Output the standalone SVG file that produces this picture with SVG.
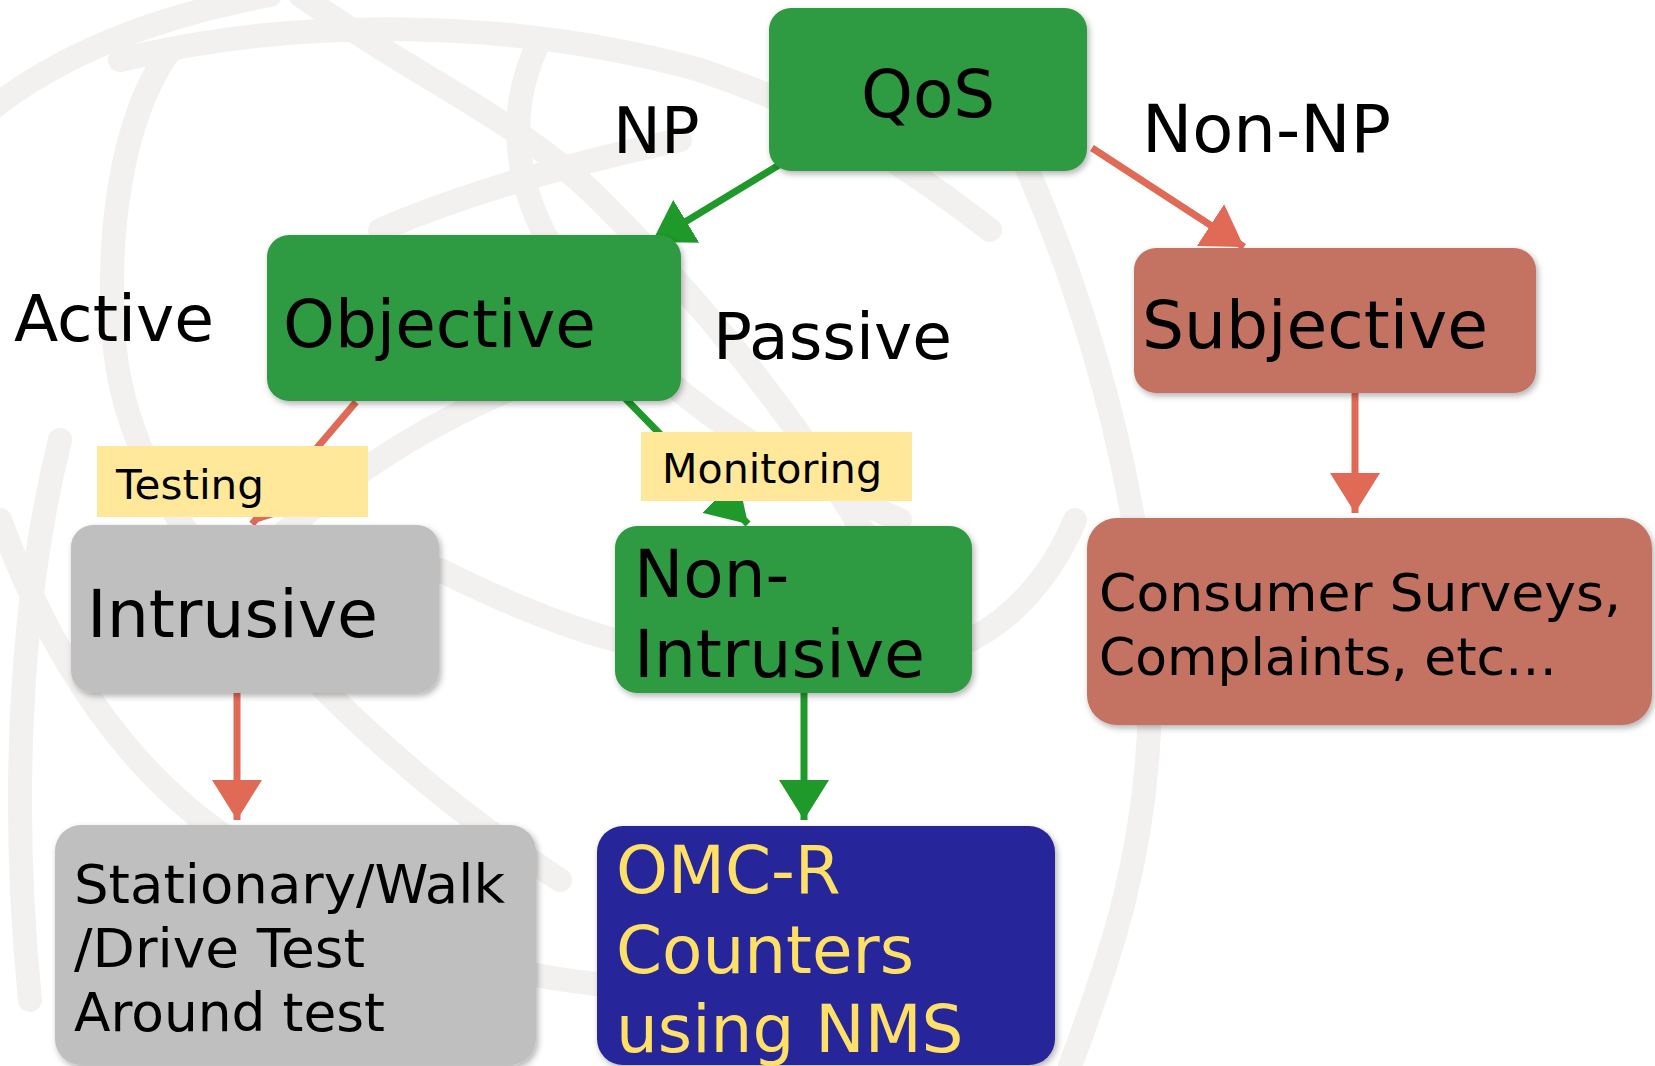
<svg xmlns="http://www.w3.org/2000/svg" width="1655" height="1066" viewBox="0 0 1655 1066">
<defs>
<filter id="sh" x="-10%" y="-10%" width="120%" height="125%">
<feDropShadow dx="2" dy="3" stdDeviation="3" flood-color="#000" flood-opacity="0.3"/>
</filter>
<marker id="ar" viewBox="0 0 40 50" markerUnits="userSpaceOnUse" markerWidth="40" markerHeight="50" refX="40" refY="25" orient="auto">
<path d="M0,0 L40,25 L0,50 z" fill="#E06A55"/>
</marker>
<marker id="ag" viewBox="0 0 40 50" markerUnits="userSpaceOnUse" markerWidth="40" markerHeight="50" refX="40" refY="25" orient="auto">
<path d="M0,0 L40,25 L0,50 z" fill="#1F9A2A"/>
</marker>
<style>
.bg{fill:none;stroke:#F2F1EF;stroke-width:24;stroke-linecap:round}
.box{filter:url(#sh)}
.t{font-family:"DejaVu Sans",Verdana,sans-serif;fill:#000}
.big{font-size:66px}
.mid{font-size:64px}
.lab{font-size:40px}
.cr{stroke:#E06A55;stroke-width:7;fill:none;marker-end:url(#ar)}
.cg{stroke:#1F9A2A;stroke-width:7;fill:none;marker-end:url(#ag)}
.green{fill:#2F9A42}
.sal{fill:#C47262}
.gray{fill:#BFBFBF}
.navy{fill:#27279A}
.yl{fill:#FFE89A}
.yt{fill:#FFE066}
</style>
</defs>
<rect width="1655" height="1066" fill="#FFFFFF"/>
<g id="watermark">
<path class="bg" d="M-10,110 C60,55 150,18 270,-5"/>
<path class="bg" d="M120,60 C300,15 520,20 700,70 C820,110 900,160 990,230"/>
<path class="bg" d="M170,50 C120,120 105,240 115,350 C125,440 170,520 240,600 C320,690 420,790 560,880"/>
<path class="bg" d="M960,40 C1060,200 1150,480 1150,700 C1148,850 1110,960 1070,1066"/>
<path class="bg" d="M540,40 C500,120 520,200 560,260 C640,380 760,460 900,520"/>
<path class="bg" d="M300,-5 C420,80 520,120 600,200 C700,300 800,420 880,560"/>
<path class="bg" d="M0,520 C60,680 140,780 230,840"/>
<path class="bg" d="M60,440 C20,600 10,800 30,1000"/>
<path class="bg" d="M440,570 C500,600 560,625 615,640"/>
<path class="bg" d="M970,640 C1010,620 1050,580 1075,520"/>
<path class="bg" d="M536,975 C560,980 580,982 597,984"/>
<path class="bg" d="M380,230 C450,200 540,170 680,140"/>
<path class="bg" d="M200,620 C300,500 420,420 560,370"/>
</g>
<g id="connectors">
<line class="cg" x1="779" y1="165" x2="652" y2="242"/>
<line class="cr" x1="1092" y1="148" x2="1244" y2="247"/>
<line class="cr" x1="356" y1="402" x2="252" y2="524"/>
<line class="cg" x1="617" y1="390" x2="748" y2="524"/>
<line class="cr" x1="1355" y1="387" x2="1355" y2="513"/>
<line class="cr" x1="237" y1="692" x2="237" y2="820"/>
<line class="cg" x1="804" y1="680" x2="804" y2="820"/>
</g>
<g id="qos">
<rect class="box green" x="769" y="8" width="318" height="163" rx="22"/>
<text class="t big" x="861" y="117">QoS</text>
</g>
<g id="label-np"><text class="t mid" x="613" y="153">NP</text></g>
<g id="label-nonnp"><text class="t big" x="1142" y="152" textLength="249" lengthAdjust="spacingAndGlyphs">Non-NP</text></g>
<g id="objective">
<rect class="box green" x="267" y="235" width="414" height="166" rx="22"/>
<text class="t big" x="283" y="347">Objective</text>
</g>
<g id="label-active"><text class="t mid" x="14" y="341" textLength="200" lengthAdjust="spacingAndGlyphs">Active</text></g>
<g id="label-passive"><text class="t mid" x="713" y="359" textLength="239" lengthAdjust="spacingAndGlyphs">Passive</text></g>
<g id="subjective">
<rect class="box sal" x="1134" y="248" width="402" height="145" rx="22"/>
<text class="t big" x="1142" y="348" textLength="346" lengthAdjust="spacingAndGlyphs">Subjective</text>
</g>
<g id="intrusive">
<rect class="box gray" x="71" y="525" width="368" height="168" rx="22"/>
<text class="t big" x="87" y="637" textLength="291" lengthAdjust="spacingAndGlyphs">Intrusive</text>
</g>
<g id="non-intrusive">
<rect class="box green" x="615" y="526" width="357" height="167" rx="22"/>
<text class="t big" x="634" y="597">Non-</text>
<text class="t big" x="634" y="677" textLength="291" lengthAdjust="spacingAndGlyphs">Intrusive</text>
</g>
<g id="consumer">
<rect class="box sal" x="1087" y="518" width="565" height="207" rx="30"/>
<text class="t" font-size="51" x="1099" y="611" textLength="522" lengthAdjust="spacingAndGlyphs">Consumer Surveys,</text>
<text class="t" font-size="51" x="1099" y="675" textLength="458" lengthAdjust="spacingAndGlyphs">Complaints, etc…</text>
</g>
<g id="stationary">
<rect class="box gray" x="55" y="825" width="481" height="240" rx="26"/>
<text class="t" font-size="54" x="74" y="903" textLength="431" lengthAdjust="spacingAndGlyphs">Stationary/Walk</text>
<text class="t" font-size="54" x="74" y="967" textLength="291" lengthAdjust="spacingAndGlyphs">/Drive Test</text>
<text class="t" font-size="54" x="74" y="1031" textLength="311" lengthAdjust="spacingAndGlyphs">Around test</text>
</g>
<g id="omc">
<rect class="box navy" x="597" y="826" width="458" height="239" rx="26"/>
<text class="t yt" font-size="66" x="616" y="893">OMC-R</text>
<text class="t yt" font-size="66" x="616" y="973">Counters</text>
<text class="t yt" font-size="66" x="616" y="1052">using NMS</text>
</g>
<g id="label-testing">
<rect class="yl" x="97" y="446" width="271" height="71"/>
<text class="t lab" x="116" y="499" textLength="148" lengthAdjust="spacingAndGlyphs">Testing</text>
</g>
<g id="label-monitoring">
<rect class="yl" x="641" y="432" width="271" height="69"/>
<text class="t lab" x="662" y="483" textLength="220" lengthAdjust="spacingAndGlyphs">Monitoring</text>
</g>
</svg>
